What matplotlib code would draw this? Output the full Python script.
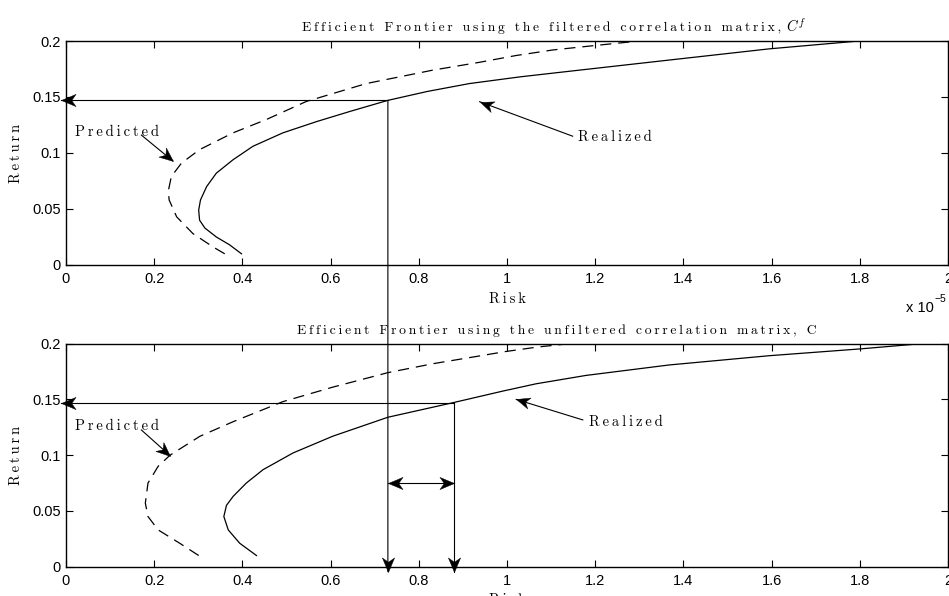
import numpy as np
import matplotlib
matplotlib.use("Agg")
import matplotlib.pyplot as plt
from matplotlib.patches import ConnectionPatch
from matplotlib.path import Path

# ─── Frontier data (risk in units of 1e-5, return) ───────────────────────────
filt_real_risk = [0.398, 0.371, 0.341, 0.315, 0.303, 0.301, 0.305, 0.319, 0.341,
                  0.379, 0.424, 0.492, 0.568, 0.643, 0.730, 0.820, 0.915, 1.030,
                  1.142, 1.368, 1.595, 1.798]
filt_real_ret = [0.010, 0.018, 0.025, 0.033, 0.040, 0.049, 0.058, 0.070, 0.082,
                 0.094, 0.106, 0.118, 0.128, 0.137, 0.147, 0.155, 0.162, 0.168,
                 0.173, 0.183, 0.193, 0.200]

filt_pred_risk = [0.360, 0.334, 0.288, 0.251, 0.234, 0.232, 0.239, 0.262, 0.303,
                  0.379, 0.455, 0.545, 0.681, 0.832, 0.938, 1.020, 1.104, 1.200,
                  1.300]
filt_pred_ret = [0.010, 0.016, 0.028, 0.043, 0.058, 0.066, 0.079, 0.091, 0.103,
                 0.118, 0.130, 0.146, 0.162, 0.174, 0.181, 0.187, 0.192, 0.196,
                 0.200]

unf_real_risk = [0.432, 0.394, 0.368, 0.358, 0.364, 0.379, 0.409, 0.447, 0.515,
                 0.605, 0.730, 0.877, 0.915, 0.991, 1.066, 1.179, 1.368, 1.595,
                 1.798, 1.940]
unf_real_ret = [0.010, 0.021, 0.033, 0.045, 0.055, 0.063, 0.075, 0.087, 0.102,
                0.117, 0.134, 0.147, 0.1505, 0.1575, 0.1640, 0.1715, 0.1809,
                0.1892, 0.1952, 0.200]

unf_pred_risk = [0.301, 0.258, 0.209, 0.186, 0.180, 0.186, 0.209, 0.236, 0.304,
                 0.379, 0.492, 0.605, 0.730, 0.832, 0.938, 0.998, 1.070, 1.142]
unf_pred_ret = [0.010, 0.021, 0.033, 0.045, 0.057, 0.075, 0.090, 0.100, 0.117,
                0.130, 0.148, 0.161, 0.174, 0.182, 0.189, 0.193, 0.197, 0.200]

# chosen portfolio: target return and the realized risk under each matrix
target_ret = 0.147
risk_filt = 0.73
risk_unf = 0.88

x_ticks = [0, 0.2, 0.4, 0.6, 0.8, 1, 1.2, 1.4, 1.6, 1.8, 2]
x_labels = ["0", "0.2", "0.4", "0.6", "0.8", "1", "1.2", "1.4", "1.6", "1.8", "2"]
y_ticks = [0, 0.05, 0.1, 0.15, 0.2]
y_labels = ["0", "0.05", "0.1", "0.15", "0.2"]

plt.rcParams["mathtext.fontset"] = "cm"
plt.rcParams["lines.scale_dashes"] = False

SERIF = ["cmr10", "DejaVu Serif"]
SANS = "Liberation Sans"
GAP = "\u2009"


def spaced(s):
    # letter-spaced text, like the LaTeX labels in the original figure
    return GAP.join(s)


def head(ax, tail, tip, size=21):
    """Notched, filled arrow head at `tip`, pointing away from `tail`."""
    p0 = ax.transData.transform(tail)
    p1 = ax.transData.transform(tip)
    ang = np.arctan2(p1[1] - p0[1], p1[0] - p0[0])
    base = np.array([(0, 0), (-1, 0.42), (-0.7, 0), (-1, -0.42), (0, 0)])
    c, s = np.cos(ang), np.sin(ang)
    verts = base @ np.array([[c, s], [-s, c]])
    codes = [Path.MOVETO, Path.LINETO, Path.LINETO, Path.LINETO, Path.CLOSEPOLY]
    ax.plot(tip[0], tip[1], marker=Path(verts, codes), ms=size, mfc="k",
            mec="k", mew=0.3, clip_on=False, zorder=5)


def arrow(ax, tail, tip, both=False):
    ax.plot([tail[0], tip[0]], [tail[1], tip[1]], color="k", lw=0.8,
            clip_on=False, zorder=4)
    head(ax, tail, tip)
    if both:
        head(ax, tip, tail)


fig = plt.figure(figsize=(9.49, 5.96), dpi=100)
ax1 = fig.add_axes([0.0695, 0.5554, 0.9294, 0.3758])
ax2 = fig.add_axes([0.0695, 0.0492, 0.9294, 0.3742])

panels = [
    (ax1, filt_real_risk, filt_real_ret, filt_pred_risk, filt_pred_ret,
     spaced("Efficient Frontier using the filtered correlation matrix,"), 0.2676),
    (ax2, unf_real_risk, unf_real_ret, unf_pred_risk, unf_pred_ret,
     spaced("Efficient Frontier using the unfiltered correlation matrix, C"), 0.262),
]

titles = []
for ax, rr, rt, pr, pt, title, tx in panels:
    ax.plot(rr, rt, color="k", lw=0.9)
    ax.plot(pr, pt, color="k", lw=0.9, linestyle=(0, (8, 5)))
    ax.set_xlim(0, 2)
    ax.set_ylim(0, 0.2)
    ax.set_xticks(x_ticks)
    ax.set_xticklabels(x_labels, fontfamily=SANS, fontsize=10.5)
    ax.set_yticks(y_ticks)
    ax.set_yticklabels(y_labels, fontfamily=SANS, fontsize=10.5)
    ax.tick_params(direction="in", top=True, right=True, length=5, width=0.8)
    ax.tick_params(axis="x", pad=5)
    ax.tick_params(axis="y", pad=3.5)
    for sp in ax.spines.values():
        sp.set_linewidth(1.0)
    ax.set_xlabel(spaced("Risk"), family=SERIF, fontsize=10.5)
    ax.set_ylabel(spaced("Return"), family=SERIF, fontsize=10.5)
    ax.xaxis.set_label_coords(0.5, -0.12)
    ax.yaxis.set_label_coords(-0.049, 0.5)
    t = ax.set_title(title, family=SERIF, fontsize=9.8, x=tx, pad=7, ha="left")
    titles.append(t)

# ── Annotations: top panel ───────────────────────────────────────────────────
ax1.text(0.02, 0.119, spaced("Predicted"), family=SERIF, fontsize=10.5,
         va="center")
arrow(ax1, (0.171, 0.116), (0.242, 0.093))
ax1.text(1.16, 0.114, spaced("Realized"), family=SERIF, fontsize=10.5,
         va="center")
arrow(ax1, (1.149, 0.115), (0.938, 0.1458))
arrow(ax1, (risk_filt, target_ret), (-0.011, target_ret))

# ── Annotations: bottom panel ────────────────────────────────────────────────
ax2.text(0.02, 0.126, spaced("Predicted"), family=SERIF, fontsize=10.5,
         va="center")
arrow(ax2, (0.171, 0.1226), (0.236, 0.0996))
ax2.text(1.187, 0.130, spaced("Realized"), family=SERIF, fontsize=10.5,
         va="center")
arrow(ax2, (1.172, 0.1316), (1.021, 0.150))
arrow(ax2, (risk_unf, target_ret), (-0.011, target_ret))
arrow(ax2, (risk_unf, target_ret), (risk_unf, -0.0045))
arrow(ax2, (risk_filt, 0.075), (risk_unf, 0.075), both=True)

# vertical drop from the filtered portfolio down to the lower risk axis
con = ConnectionPatch(xyA=(risk_filt, target_ret), coordsA=ax1.transData,
                      xyB=(risk_filt, -0.0045), coordsB=ax2.transData,
                      color="k", lw=0.8, zorder=4)
fig.add_artist(con)
head(ax2, (risk_filt, 0.1), (risk_filt, -0.0045))

# axis multiplier for the top panel
fig.text(0.984, 0.477, "x 10", family=SANS, fontsize=10.5, ha="right",
         va="baseline")
fig.text(0.985, 0.494, "\u22125", family=SANS, fontsize=7.5, ha="left",
         va="baseline")

# math symbol appended to the end of the top title
fig.canvas.draw()
t = titles[0]
bb = t.get_window_extent()
x_end = ax1.transAxes.inverted().transform((bb.x1, 0))[0]
ax1.text(x_end + 0.005, t.get_position()[1], "$C^f$", fontsize=10.5,
         transform=t.get_transform(), ha="left", va="baseline")

fig.savefig("out.png", dpi=100, facecolor="white")
